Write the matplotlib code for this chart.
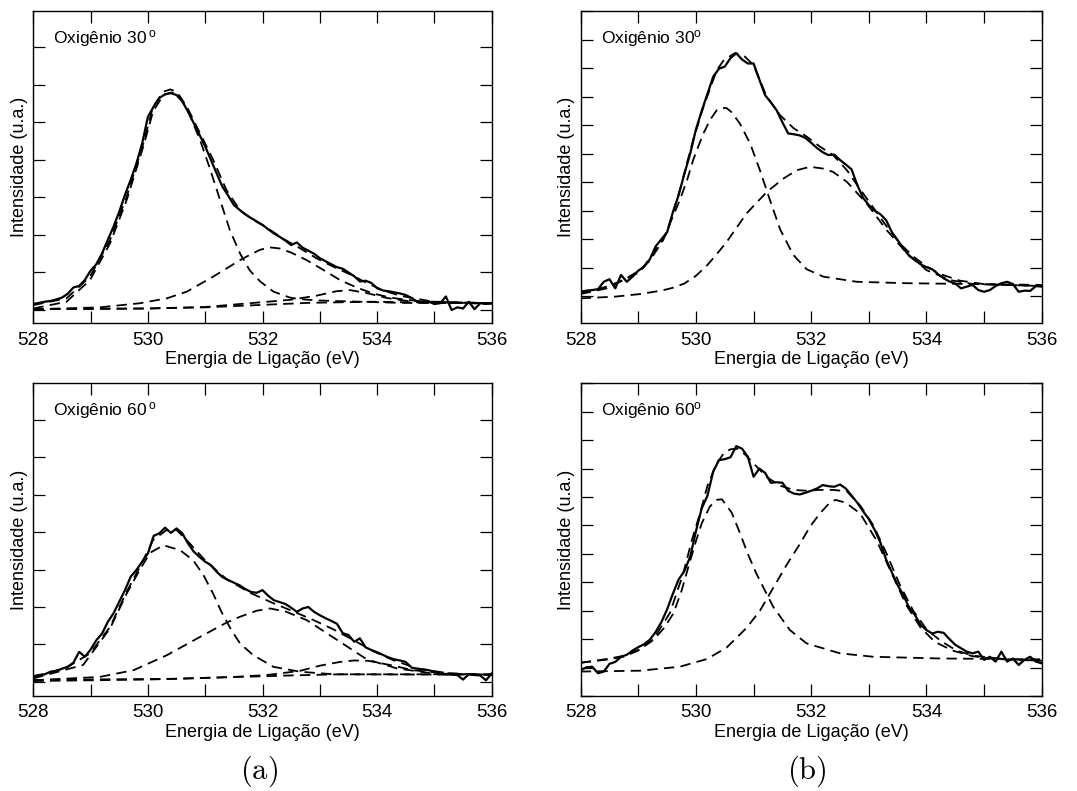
import numpy as np
import matplotlib
matplotlib.use("Agg")
import matplotlib.pyplot as plt
from matplotlib.ticker import MultipleLocator, NullFormatter

plt.rcParams['font.family'] = ['Liberation Sans', 'DejaVu Sans']
plt.rcParams['mathtext.fontset'] = 'custom'
plt.rcParams['mathtext.rm'] = 'Liberation Sans'
plt.rcParams['mathtext.it'] = 'Liberation Sans:italic'
plt.rcParams['lines.scale_dashes'] = False

# ---------------- data ----------------
energy = np.linspace(528.0, 536.0, 81)   # measurement grid, 0.1 eV step

# (a) Oxigenio 30
a30_meas = [1.16, 1.19, 1.22, 1.24, 1.28, 1.33, 1.43, 1.60, 1.64, 1.80,
            2.05, 2.22, 2.51, 2.87, 3.22, 3.62, 4.07, 4.47, 4.91, 5.44,
            6.15, 6.42, 6.65, 6.75, 6.78, 6.73, 6.56, 6.29, 5.98, 5.67,
            5.36, 5.00, 4.64, 4.29, 4.05, 3.80, 3.67, 3.55, 3.45, 3.36,
            3.27, 3.15, 3.04, 2.95, 2.85, 2.73, 2.80, 2.66, 2.58, 2.50,
            2.38, 2.30, 2.22, 2.14, 2.10, 2.00, 1.90, 1.76, 1.78, 1.72,
            1.58, 1.52, 1.50, 1.47, 1.44, 1.40, 1.32, 1.22, 1.20, 1.22,
            1.16, 1.18, 1.36, 1.00, 1.07, 1.04, 1.22, 1.02, 1.18, 1.16,
            1.18]
a30_env_x = [528.0, 528.58, 528.99, 529.34, 529.63, 529.92, 530.09, 530.27, 530.39, 530.5,
             530.68, 530.91, 531.14, 531.37, 531.61, 531.84, 532.07, 532.36, 532.65, 532.94,
             533.24, 533.53, 533.82, 534.11, 534.4, 534.98, 536.0]
a30_env_y = [1.13, 1.31, 1.89, 2.87, 4.02, 5.44, 6.42, 6.82, 6.88, 6.82,
             6.42, 5.71, 5.0, 4.2, 3.65, 3.4, 3.2, 2.9, 2.65, 2.38,
             2.15, 1.95, 1.72, 1.52, 1.38, 1.22, 1.18]
a30_c1_x = [528.0, 528.58, 528.99, 529.34, 529.63, 529.92, 530.09, 530.27, 530.41, 530.56,
            530.73, 530.91, 531.08, 531.26, 531.43, 531.61, 531.78, 531.96, 532.19, 532.48,
            532.65, 532.9, 533.24, 534.4, 536.0]
a30_c1_y = [1.04, 1.22, 1.80, 2.78, 3.93, 5.36, 6.29, 6.73, 6.80, 6.69,
            6.2, 5.53, 4.78, 3.93, 3.13, 2.5, 2.05, 1.76, 1.49, 1.33,
            1.29, 1.26, 1.24, 1.19, 1.18]
a30_c2_x = [528.0, 529.16, 529.86, 530.33, 530.68, 531.14, 531.61, 531.78, 531.95, 532.12,
            532.3, 532.5, 532.77, 533.06, 533.35, 533.64, 533.93, 534.23, 534.52, 535.0, 536.0]
a30_c2_y = [1.02, 1.07, 1.18, 1.31, 1.49, 1.89, 2.33, 2.47, 2.6, 2.67,
            2.64, 2.53, 2.33, 2.07, 1.8, 1.6, 1.44, 1.33, 1.27, 1.2, 1.18]
a30_c3_x = [528.0, 530.0, 531.0, 531.93, 532.48, 532.94, 533.29, 533.53, 533.82, 534.17, 534.52, 536.0]
a30_c3_y = [1.02, 1.04, 1.08, 1.2, 1.27, 1.38, 1.5, 1.53, 1.45, 1.32, 1.24, 1.18]
a30_bg_x = [528.0, 529.0, 530.0, 531.0, 531.6, 532.2, 532.8, 533.9, 536.0]
a30_bg_y = [1.02, 1.03, 1.04, 1.07, 1.11, 1.15, 1.19, 1.22, 1.17]

# (b) Oxigenio 30
b30_meas = [1.16, 1.20, 1.22, 1.25, 1.51, 1.60, 1.28, 1.75, 1.51, 1.69,
            1.90, 2.04, 2.30, 2.75, 3.00, 3.25, 3.95, 4.55, 5.30, 6.00,
            6.85, 7.50, 8.10, 8.70, 8.98, 9.05, 9.35, 9.52, 9.30, 9.16,
            9.16, 8.60, 8.05, 7.80, 7.52, 7.10, 6.71, 6.68, 6.64, 6.55,
            6.38, 6.20, 6.05, 5.95, 5.97, 5.78, 5.62, 5.45, 4.90, 4.45,
            4.20, 4.00, 3.88, 3.67, 3.25, 2.97, 2.68, 2.42, 2.27, 2.12,
            2.02, 1.95, 1.78, 1.63, 1.52, 1.45, 1.28, 1.34, 1.40, 1.22,
            1.16, 1.22, 1.36, 1.46, 1.51, 1.43, 1.16, 1.20, 1.19, 1.36,
            1.34]
b30_env_x = [528.0, 528.45, 528.74, 529.03, 529.26, 529.49, 529.72, 529.95, 530.13, 530.36,
             530.48, 530.68, 530.85, 531.0, 531.23, 531.46, 531.69, 531.92, 532.15, 532.38,
             532.62, 532.85, 533.08, 533.31, 533.54, 533.77, 534.0, 534.24, 534.58, 534.99,
             535.39, 536.0]
b30_env_y = [1.08, 1.28, 1.57, 1.86, 2.51, 3.2, 4.72, 6.47, 7.64, 8.92,
             9.27, 9.53, 9.4, 9.1, 7.99, 7.35, 6.9, 6.6, 6.25, 5.95,
             5.42, 4.75, 4.1, 3.45, 2.85, 2.4, 2.05, 1.78, 1.55, 1.43,
             1.40, 1.36]
b30_c1_x = [528.0, 528.45, 528.74, 529.03, 529.2, 529.43, 529.6, 529.72, 529.85, 529.95,
            530.05, 530.13, 530.25, 530.36, 530.45, 530.53, 530.62, 530.76, 530.94, 531.11,
            531.28, 531.46, 531.69, 531.92, 532.21, 532.79, 533.66, 536.0]
b30_c1_y = [1.10, 1.34, 1.57, 1.92, 2.25, 2.97, 3.8, 4.37, 5.1, 5.77,
            6.3, 6.71, 7.2, 7.52, 7.6, 7.6, 7.45, 7.06, 6.36, 5.42,
            4.4, 3.35, 2.45, 1.95, 1.69, 1.51, 1.46, 1.40]
b30_c2_x = [528.0, 528.6, 529.03, 529.4, 529.6, 529.8, 530.0, 530.19, 530.35, 530.53,
            530.88, 531.23, 531.52, 531.75, 531.98, 532.2, 532.38, 532.62, 532.96, 533.31,
            533.66, 534.0, 534.41, 534.81, 536.0]
b30_c2_y = [0.93, 0.99, 1.08, 1.2, 1.3, 1.45, 1.72, 2.08, 2.45, 2.9,
            3.91, 4.66, 5.13, 5.42, 5.54, 5.48, 5.36, 5.01, 4.26, 3.32,
            2.51, 1.92, 1.57, 1.43, 1.36]

# (a) Oxigenio 60
a60_meas = [0.15, 0.18, 0.20, 0.27, 0.29, 0.35, 0.40, 0.51, 0.80, 0.67,
            0.86, 1.11, 1.29, 1.60, 1.83, 2.14, 2.45, 2.81, 2.99, 3.21,
            3.43, 3.90, 3.97, 4.12, 3.98, 4.10, 3.97, 3.70, 3.48, 3.34,
            3.21, 3.12, 2.94, 2.80, 2.72, 2.65, 2.58, 2.48, 2.40, 2.38,
            2.45, 2.30, 2.18, 2.13, 2.08, 1.98, 1.87, 1.96, 2.00, 1.87,
            1.78, 1.70, 1.63, 1.55, 1.30, 1.25, 1.07, 1.16, 0.92, 0.85,
            0.79, 0.72, 0.65, 0.60, 0.57, 0.53, 0.38, 0.35, 0.33, 0.31,
            0.27, 0.22, 0.20, 0.19, 0.18, 0.06, 0.20, 0.18, 0.17, 0.04,
            0.22]
a60_env_x = [528.0, 528.58, 528.99, 529.34, 529.63, 529.86, 530.09, 530.33, 530.5, 530.73,
             531.02, 531.37, 531.78, 532.19, 532.54, 532.89, 533.24, 533.58, 533.93, 534.28,
             534.69, 535.27, 536.0]
a60_env_y = [0.13, 0.38, 0.76, 1.47, 2.41, 3.07, 3.79, 4.06, 4.06, 3.70,
             3.21, 2.75, 2.38, 2.1, 1.88, 1.65, 1.4, 1.12, 0.82, 0.58,
             0.36, 0.22, 0.18]
a60_c1_x = [528.0, 528.87, 529.34, 529.63, 529.86, 530.04, 530.27, 530.56, 530.79, 530.97,
            531.14, 531.29, 531.45, 531.61, 531.84, 532.19, 532.65, 533.24, 536.0]
a60_c1_y = [0.09, 0.45, 1.43, 2.36, 3.0, 3.45, 3.65, 3.52, 3.25, 2.85,
            2.35, 1.85, 1.4, 1.02, 0.71, 0.4, 0.27, 0.2, 0.19]
a60_c2_x = [528.0, 529.16, 529.75, 530.33, 530.91, 531.37, 531.61, 531.9, 532.13, 532.4,
            532.77, 533.06, 533.35, 533.6, 533.82, 534.34, 534.98, 536.0]
a60_c2_y = [0.04, 0.13, 0.31, 0.71, 1.20, 1.58, 1.74, 1.9, 1.96, 1.88,
            1.65, 1.36, 1.07, 0.82, 0.6, 0.36, 0.22, 0.19]
a60_c3_x = [528.0, 530.5, 531.5, 532.07, 532.65, 533.0, 533.35, 533.6, 533.85, 534.22,
            534.63, 535.0, 535.5, 536.0]
a60_c3_y = [0.05, 0.08, 0.13, 0.18, 0.29, 0.43, 0.53, 0.57, 0.56, 0.45,
            0.31, 0.25, 0.21, 0.19]
a60_bg_x = [528.0, 530.0, 531.6, 532.5, 533.35, 534.5, 536.0]
a60_bg_y = [0.02, 0.06, 0.13, 0.17, 0.2, 0.2, 0.2]

# (b) Oxigenio 60
b60_meas = [0.91, 1.01, 1.03, 0.80, 0.86, 1.13, 1.20, 1.38, 1.45, 1.60,
            1.72, 1.82, 1.98, 2.25, 2.60, 3.05, 3.60, 4.10, 4.40, 4.90,
            5.80, 6.60, 7.05, 7.90, 8.30, 8.33, 8.40, 8.79, 8.70, 8.42,
            7.71, 8.00, 7.85, 7.50, 7.52, 7.50, 7.22, 7.12, 7.09, 7.15,
            7.22, 7.30, 7.42, 7.38, 7.36, 7.44, 7.30, 7.05, 6.80, 6.50,
            6.22, 5.85, 5.40, 4.80, 4.35, 3.90, 3.55, 3.10, 2.85, 2.50,
            2.32, 2.20, 2.26, 2.22, 2.00, 1.80, 1.68, 1.56, 1.50, 1.56,
            1.27, 1.38, 1.21, 1.56, 1.21, 1.32, 1.09, 1.27, 1.38, 1.21,
            1.15]
b60_env_x = [528.0, 528.45, 528.74, 529.0, 529.26, 529.55, 529.78, 529.93, 530.07, 530.2,
             530.36, 530.48, 530.6, 530.72, 530.85, 531.0, 531.23, 531.46, 531.69, 531.92,
             532.15, 532.38, 532.62, 532.85, 533.08, 533.31, 533.54, 533.77, 534.0, 534.24,
             534.52, 534.81, 535.39, 536.0]
b60_env_y = [1.17, 1.30, 1.41, 1.62, 1.99, 2.93, 4.31, 5.49, 6.42, 7.4,
             8.18, 8.53, 8.68, 8.7, 8.5, 8.18, 7.7, 7.4, 7.25, 7.22,
             7.25, 7.25, 7.2, 6.7, 6.0, 5.0, 3.9, 3.0, 2.35, 1.95,
             1.6, 1.42, 1.29, 1.24]
b60_c1_x = [528.0, 528.45, 528.74, 529.0, 529.26, 529.45, 529.61, 529.75, 529.87, 530.0,
            530.1, 530.24, 530.36, 530.45, 530.62, 530.76, 530.9, 531.05, 531.2, 531.34,
            531.63, 531.92, 532.5, 533.08, 534.23, 536.0]
b60_c1_y = [1.17, 1.28, 1.38, 1.6, 1.97, 2.4, 2.91, 3.7, 4.55, 5.45,
            6.07, 6.66, 6.9, 6.92, 6.45, 5.75, 5.0, 4.3, 3.7, 3.14,
            2.32, 1.85, 1.50, 1.38, 1.32, 1.29]
b60_c2_x = [528.0, 529.03, 529.72, 530.19, 530.53, 530.88, 531.11, 531.34, 531.57, 531.81,
            531.98, 532.15, 532.3, 532.42, 532.6, 532.85, 533.14, 533.4, 533.65, 533.9,
            534.15, 534.45, 534.8, 535.2, 536.0]
b60_c2_y = [0.86, 0.89, 1.03, 1.30, 1.70, 2.40, 3.0, 3.8, 4.6, 5.37,
            5.96, 6.42, 6.75, 6.9, 6.8, 6.42, 5.45, 4.3, 3.2, 2.4,
            1.9, 1.6, 1.4, 1.3, 1.24]

x_ticks_major = [528, 530, 532, 534, 536]
x_label = "Energia de Ligação (eV)"
y_label = "Intensidade (u.a.)"

# ---------------- figure ----------------
W, H = 1077, 791
fig = plt.figure(figsize=(W / 100, H / 100), dpi=100)


def add_ax(left, right, top, bottom):
    return fig.add_axes([left / W, 1 - bottom / H, (right - left) / W, (bottom - top) / H])


panels = [
    dict(box=(33.3, 491.7, 11.0, 323.3), ylim=(0.645, 8.97),
         title=r'Oxigênio 30$\,{}^{\mathrm{o}}$', meas=a30_meas,
         fits=[(a30_env_x, a30_env_y), (a30_c1_x, a30_c1_y), (a30_c2_x, a30_c2_y),
               (a30_c3_x, a30_c3_y), (a30_bg_x, a30_bg_y)]),
    dict(box=(580.7, 1041.7, 11.0, 323.3), ylim=(0.055, 11.0),
         title=r'Oxigênio 30$^{\mathrm{o}}$', meas=b30_meas,
         fits=[(b30_env_x, b30_env_y), (b30_c1_x, b30_c1_y), (b30_c2_x, b30_c2_y)]),
    dict(box=(33.3, 491.7, 383.3, 696.0), ylim=(-0.38, 7.98),
         title=r'Oxigênio 60$\,{}^{\mathrm{o}}$', meas=a60_meas,
         fits=[(a60_env_x, a60_env_y), (a60_c1_x, a60_c1_y), (a60_c2_x, a60_c2_y),
               (a60_c3_x, a60_c3_y), (a60_bg_x, a60_bg_y)]),
    dict(box=(580.7, 1041.7, 383.3, 696.0), ylim=(0.0, 11.0),
         title=r'Oxigênio 60$^{\mathrm{o}}$', meas=b60_meas,
         fits=[(b60_env_x, b60_env_y), (b60_c1_x, b60_c1_y), (b60_c2_x, b60_c2_y)]),
]

for p in panels:
    ax = add_ax(*p['box'])
    for fx, fy in p['fits']:
        ax.plot(fx, fy, color='black', lw=1.3, dashes=(7.5, 4.5), zorder=2)
    ax.plot(energy, p['meas'], color='black', lw=1.6, zorder=3)
    ax.set_xlim(528, 536)
    ax.set_ylim(*p['ylim'])
    ax.set_xticks(x_ticks_major)
    ax.xaxis.set_minor_locator(MultipleLocator(1))
    ax.yaxis.set_major_locator(MultipleLocator(1))
    ax.yaxis.set_major_formatter(NullFormatter())
    ax.tick_params(which='both', direction='in', length=8.5, width=0.9,
                   top=True, right=True, labelsize=13.5, pad=6)
    for s in ax.spines.values():
        s.set_linewidth(1.0)
    ax.set_xlabel(x_label, fontsize=13, labelpad=2)
    ax.set_ylabel(y_label, fontsize=13, labelpad=-2)
    ax.text(0.043, 0.897, p['title'], transform=ax.transAxes, fontsize=12.5,
            ha='left', va='baseline', math_fontfamily='custom')

fig.text(259 / W, 1 - 771 / H, r'$\mathrm{(a)}$', fontsize=22, ha='center', va='center',
         math_fontfamily='cm')
fig.text(807 / W, 1 - 771 / H, r'$\mathrm{(b)}$', fontsize=22, ha='center', va='center',
         math_fontfamily='cm')

fig.savefig('out.png', dpi=100)
